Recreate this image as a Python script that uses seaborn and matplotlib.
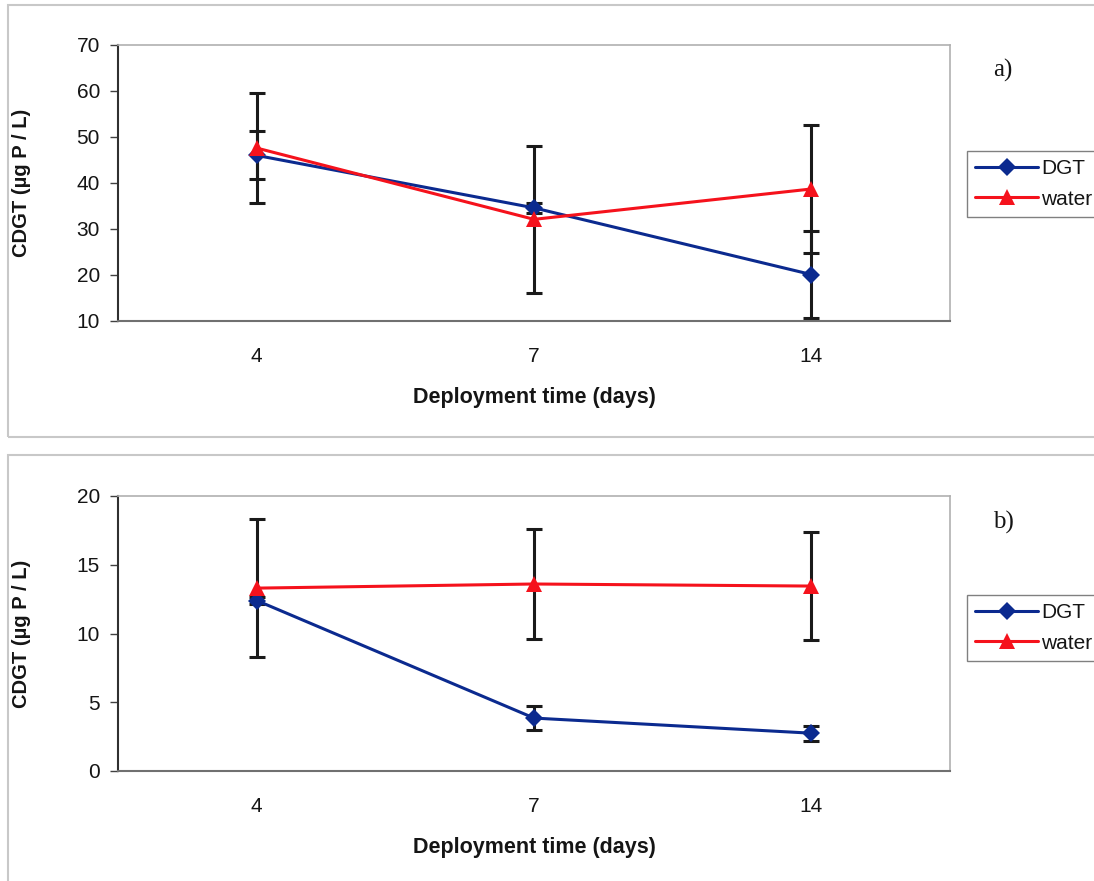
import matplotlib
matplotlib.use("Agg")
from matplotlib import pyplot as plt
from matplotlib.patches import Rectangle
import seaborn as sns
import pandas as pd

# data
days = ['4', '7', '14']
series = ['DGT', 'water']

a_dgt = [46.0, 34.6, 20.1]
a_dgt_err = [5.2, 1.1, 9.4]
a_water = [47.6, 32.1, 38.7]
a_water_err = [11.9, 16.0, 13.9]

b_dgt = [12.4, 3.85, 2.75]
b_dgt_err = [0.25, 0.85, 0.55]
b_water = [13.3, 13.6, 13.45]
b_water_err = [5.0, 4.0, 3.95]

sns.set_style('white')
plt.rcParams['font.family'] = ['Liberation Sans', 'DejaVu Sans']
plt.rcParams['text.color'] = '#151515'
plt.rcParams['xtick.color'] = '#151515'
plt.rcParams['ytick.color'] = '#151515'
plt.rcParams['axes.labelcolor'] = '#151515'

colors = {'DGT': '#0b2a8f', 'water': '#f5121c'}
markers = {'DGT': 'D', 'water': '^'}


def make_df(dgt, water):
    return pd.DataFrame({
        'day': days * 2,
        'value': dgt + water,
        'series': ['DGT'] * 3 + ['water'] * 3,
    })


fig = plt.figure(figsize=(10.94, 8.81), dpi=100)

# outer chart-area frames (Excel look)
fig.patches.append(Rectangle((8 / 1094, 1 - 437 / 881), 1.0, 432 / 881, transform=fig.transFigure,
                             fill=False, edgecolor='#c8c8c8', linewidth=1.5))
fig.patches.append(Rectangle((8 / 1094, 1 - 885 / 881), 1.0, 430 / 881, transform=fig.transFigure,
                             fill=False, edgecolor='#c8c8c8', linewidth=1.5))

panels = [
    (a_dgt, a_dgt_err, a_water, a_water_err, (10, 70), 10, 1 - 321 / 881, 276 / 881, 'a)', 1 - 70 / 881, 1 - 184 / 881),
    (b_dgt, b_dgt_err, b_water, b_water_err, (0, 20), 5, 1 - 771 / 881, 275 / 881, 'b)', 1 - 522 / 881, 1 - 628 / 881),
]

for dgt, dgt_err, water, water_err, ylim, ystep, bottom, height, tag, tag_y, leg_y in panels:
    ax = fig.add_axes([118 / 1094, bottom, 832 / 1094, height])
    df = make_df(dgt, water)
    sns.lineplot(data=df, x='day', y='value', hue='series', style='series',
                 palette=colors, markers=markers, dashes=False, markersize=9,
                 markeredgewidth=0, linewidth=2.2, ax=ax, zorder=3)
    for ln in ax.lines:
        if ln.get_marker() == '^':
            ln.set_markersize(11)

    xs = range(len(days))
    ax.errorbar(xs, dgt, yerr=dgt_err, fmt='none', ecolor='#1a1a1a', elinewidth=2.2,
                capsize=5.5, capthick=2.2, zorder=2)
    ax.errorbar(xs, water, yerr=water_err, fmt='none', ecolor='#1a1a1a', elinewidth=2.2,
                capsize=5.5, capthick=2.2, zorder=2)

    ax.set_xlim(-0.5, 2.5)
    ax.set_ylim(*ylim)
    ax.set_yticks(range(ylim[0], ylim[1] + 1, ystep))
    ax.set_xticks(list(xs))
    ax.set_xticklabels(days)
    ax.set_xticks([-0.5, 0.5, 1.5, 2.5], minor=True)
    ax.tick_params(axis='x', which='major', length=0, pad=19, labelsize=15)
    ax.tick_params(axis='x', which='minor', length=5, width=1, color='#808080', direction='out')
    ax.tick_params(axis='y', length=6, width=1, color='#404040', labelsize=15, pad=7, left=True)

    for side in ['top', 'right']:
        ax.spines[side].set_color('#b0b0b0')
        ax.spines[side].set_linewidth(1.2)
    ax.spines['bottom'].set_color('#707070')
    ax.spines['bottom'].set_linewidth(1.5)
    ax.spines['left'].set_color('#303030')
    ax.spines['left'].set_linewidth(1.5)

    ax.set_ylabel('CDGT (µg P / L)', fontsize=14.5, fontweight='bold')
    ax.set_xlabel('Deployment time (days)', fontsize=15.5, fontweight='bold')
    ax.yaxis.set_label_coords(-0.105, 0.5)
    ax.xaxis.set_label_coords(0.5, -0.24)

    handles, labels = ax.get_legend_handles_labels()
    for h in handles:
        if h.get_marker() == '^':
            h.set_markersize(11)
    ax.legend(handles, labels, loc='center left', bbox_to_anchor=(967 / 1094, leg_y),
              bbox_transform=fig.transFigure, fontsize=15, frameon=True, fancybox=False,
              shadow=False, edgecolor='#606060', handlelength=3.0, borderpad=0.4,
              labelspacing=0.55, handletextpad=0.15, borderaxespad=0)

    fig.text(993 / 1094, tag_y, tag, fontsize=18, family=['Liberation Serif', 'DejaVu Serif'],
             va='center', ha='left')

fig.savefig('out.png', dpi=100)
